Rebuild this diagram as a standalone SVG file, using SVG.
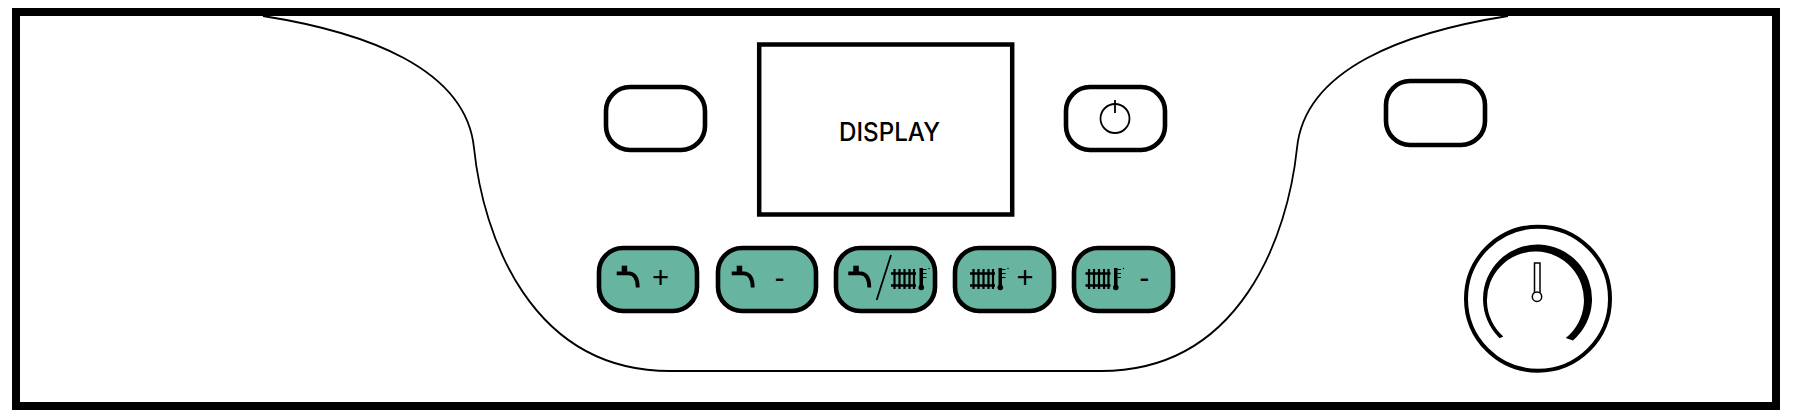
<svg xmlns="http://www.w3.org/2000/svg" xmlns:xlink="http://www.w3.org/1999/xlink" width="1793" height="418" viewBox="0 0 1793 418">
<style>
.btn{fill:#fff;stroke:#000;stroke-width:4.600}
.teal{fill:#67b5a0}
.lbl{font-family:"Inter","Liberation Sans",sans-serif;fill:#000;text-anchor:middle}
.pm{font-size:30px;font-family:"Noto Sans","Liberation Sans",sans-serif}
</style>
<defs>
<g id="tap">
<rect x="5" y="-7.800" width="5.500" height="6.200"/>
<path d="M0,-0.200H12C18.500,0 21,5 21,14" fill="none" stroke="#000" stroke-width="3.800"/>
</g>
<g id="rad">
<path d="M0,5.500H25M0,17.500H25" fill="none" stroke="#000" stroke-width="2.500"/>
<path d="M3.500,1V21M8.500,1V21M13.500,1V21M18.500,1V21M23,1V21" fill="none" stroke="#000" stroke-width="2.200"/>
<rect x="28.500" y="0" width="3.500" height="19"/>
<circle cx="30.300" cy="19.500" r="2.800"/>
<path d="M32,1.500H35.500M32,5.500H35.500M32,9.500H35.500" fill="none" stroke="#000" stroke-width="1.200"/>
<circle cx="38" cy="0.500" r="0.700"/>
</g>
</defs>
<rect id="frame" x="16" y="12" width="1760" height="394" fill="#fff" stroke="#000" stroke-width="8"/>
<path id="panel" d="M263,16C365,32 466,68 474,148C483,235 530,371 670,371H1101C1241,371 1288,235 1297,148C1305,68 1406,32 1508,16" fill="none" stroke="#000" stroke-width="1.800"/>
<g id="display">
<rect x="759.200" y="44.500" width="253" height="170" fill="#fff" stroke="#000" stroke-width="4.500"/>
<text class="lbl" x="889.500" y="140.700" font-size="25" font-weight="500" textLength="101" lengthAdjust="spacingAndGlyphs">DISPLAY</text>
</g>
<g id="button-left"><rect class="btn" x="606" y="87" width="99" height="63" rx="24"/></g>
<g id="button-power">
<rect class="btn" x="1066" y="87" width="99" height="63" rx="24"/>
<circle cx="1115" cy="118.500" r="14.500" fill="none" stroke="#000" stroke-width="1.800"/>
<path d="M1115,100V113" fill="none" stroke="#000" stroke-width="1.800"/>
</g>
<g id="button-right"><rect class="btn" x="1386" y="81" width="99" height="64" rx="24"/></g>
<g id="button-tap-plus">
<rect class="btn teal" x="599" y="248" width="98" height="63" rx="24"/>
<use xlink:href="#tap" href="#tap" x="616.700" y="273.500"/>
<text class="lbl pm" x="660.700" y="288">+</text>
</g>
<g id="button-tap-minus">
<rect class="btn teal" x="718" y="248" width="98" height="63" rx="24"/>
<use xlink:href="#tap" href="#tap" x="731.700" y="273.500"/>
<text class="lbl pm" x="779.500" y="288">-</text>
</g>
<g id="button-tap-heat">
<rect class="btn teal" x="836" y="248" width="99" height="63" rx="24"/>
<use xlink:href="#tap" href="#tap" x="848.300" y="273.500"/>
<path d="M876.700,300L891,255" fill="none" stroke="#000" stroke-width="1.800"/>
<use xlink:href="#rad" href="#rad" x="891" y="268"/>
</g>
<g id="button-heat-plus">
<rect class="btn teal" x="955" y="248" width="99" height="63" rx="24"/>
<use xlink:href="#rad" href="#rad" x="970" y="268"/>
<text class="lbl pm" x="1025" y="288">+</text>
</g>
<g id="button-heat-minus">
<rect class="btn teal" x="1074" y="248" width="99" height="63" rx="24"/>
<use xlink:href="#rad" href="#rad" x="1085.500" y="268"/>
<text class="lbl pm" x="1144.300" y="288">-</text>
</g>
<g id="knob">
<circle cx="1538" cy="298.700" r="72" fill="#fff" stroke="#000" stroke-width="4"/>
<path d="M1499.600,338.200A54.500,54.500 0 1 1 1573,340.400L1565.700,338A48.500,48.500 0 1 0 1503.300,336.400Z"/>
<rect x="1534.500" y="263" width="5.500" height="30" fill="#fff" stroke="#000" stroke-width="1.500"/>
<circle cx="1537" cy="296.700" r="4.700" fill="#fff" stroke="#000" stroke-width="1.500"/>
</g>
</svg>
